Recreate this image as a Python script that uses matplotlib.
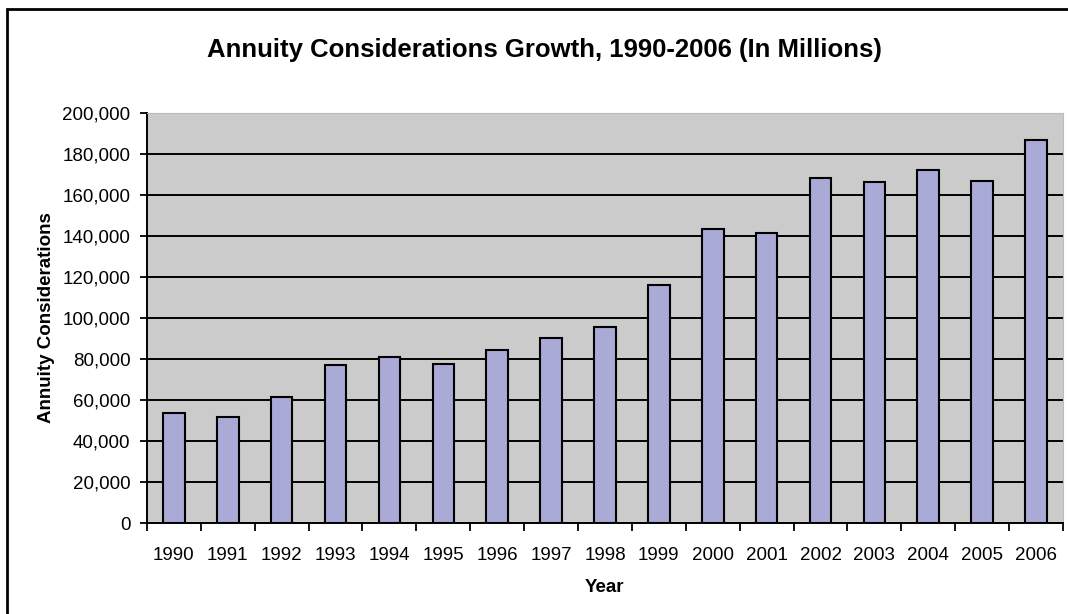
import numpy as np
import matplotlib.pyplot as plt
from matplotlib.patches import Rectangle
from matplotlib.ticker import FuncFormatter, MultipleLocator

plt.rcParams['font.family'] = ['Liberation Sans', 'DejaVu Sans']

years = ['1990', '1991', '1992', '1993', '1994', '1995', '1996', '1997', '1998',
         '1999', '2000', '2001', '2002', '2003', '2004', '2005', '2006']
considerations = [53900, 51800, 61500, 77300, 80900, 77500, 84300, 90300, 95600,
                  115900, 143300, 141600, 168500, 166200, 172200, 167000, 187000]

fig = plt.figure(figsize=(10.68, 6.14), dpi=100)
ax = fig.add_axes([0.1376, 0.1482, 0.8577, 0.6678])
ax.set_facecolor('#cbcbcb')

x = np.arange(len(years))
ax.bar(x, considerations, width=0.4, color='#aaaad6', edgecolor='black',
       linewidth=1.5, zorder=3)

ax.set_ylim(0, 200000)
ax.set_xlim(-0.5, len(years) - 0.5)
ax.yaxis.set_major_locator(MultipleLocator(20000))
ax.yaxis.set_major_formatter(FuncFormatter(lambda v, p: f'{int(v):,}'))
ax.grid(axis='y', color='black', linewidth=1.4, zorder=1)

ax.set_xticks(x)
ax.set_xticklabels(years)
ax.set_xticks(np.arange(-0.5, len(years)), minor=True)
ax.tick_params(axis='x', which='major', length=0, pad=17, labelsize=13.5)
ax.tick_params(axis='x', which='minor', length=6, width=1.3, direction='out')
ax.tick_params(axis='y', length=5, width=1.3, direction='out', pad=7, labelsize=13.5)

for s in ['left', 'bottom']:
    ax.spines[s].set_linewidth(1.4)
    ax.spines[s].set_color('black')
for s in ['top', 'right']:
    ax.spines[s].set_color('#bbbbbb')
    ax.spines[s].set_linewidth(0.8)

ax.set_xlabel('Year', fontsize=13.5, fontweight='bold', labelpad=11)
ax.set_ylabel('Annuity Considerations', fontsize=13.5, fontweight='bold', labelpad=5)
fig.text(0.51, 0.918, 'Annuity Considerations Growth, 1990-2006 (In Millions)',
         ha='center', va='center', fontsize=18.5, fontweight='bold')

# outer chart frame
fig.patches.append(Rectangle((7 / 1068, -0.1), 1.2, 1.1 - 9 / 614, transform=fig.transFigure,
                             fill=False, edgecolor='black', linewidth=2))

fig.savefig('out.png', dpi=100)
